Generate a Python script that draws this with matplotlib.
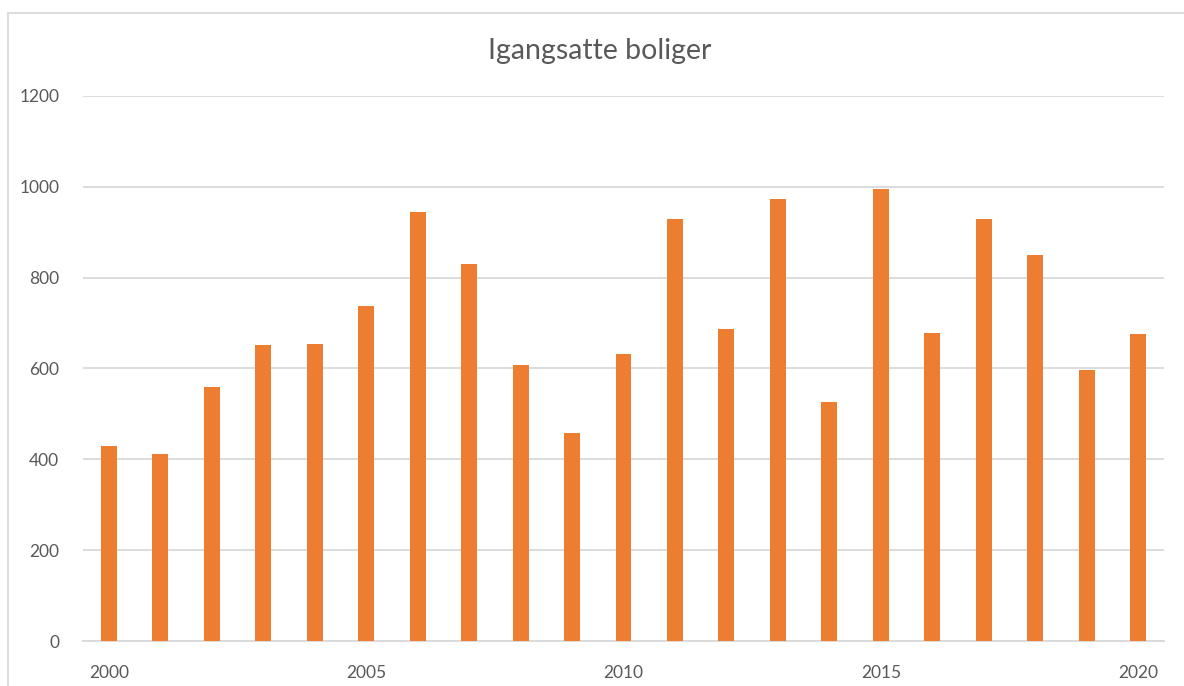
import matplotlib
matplotlib.use("Agg")
import matplotlib.pyplot as plt
import matplotlib.patches as mpatches
import numpy as np

# Igangsatte boliger per år
years = [2000, 2001, 2002, 2003, 2004, 2005, 2006, 2007, 2008, 2009, 2010,
         2011, 2012, 2013, 2014, 2015, 2016, 2017, 2018, 2019, 2020]
started = [430, 411, 559, 651, 654, 738, 945, 830, 607, 458, 632,
           929, 687, 974, 526, 995, 679, 929, 850, 596, 677]
tick_years = [2000, 2005, 2010, 2015, 2020]
y_ticks = [0, 200, 400, 600, 800, 1000, 1200]

plt.rcParams['font.family'] = ['Lato', 'DejaVu Sans']
grey_text = '#595959'

fig = plt.figure(figsize=(11.84, 6.86), dpi=100)
ax = fig.add_axes([83 / 1184, 1 - 641 / 686, (1164 - 83) / 1184, (641 - 96) / 686])

x = np.arange(len(years))
ax.bar(x, started, width=0.31, color='#ED7D31', zorder=3)

ax.set_xlim(-0.5, len(years) - 0.5)
ax.set_ylim(0, 1200)
ax.set_yticks(y_ticks)
ax.set_yticklabels([str(v) for v in y_ticks])
ax.set_xticks([years.index(y) for y in tick_years])
ax.set_xticklabels([str(y) for y in tick_years])

ax.grid(axis='y', color='#d9d9d9', linewidth=1.3, zorder=0)
for s in ['top', 'right', 'left']:
    ax.spines[s].set_visible(False)
ax.spines['bottom'].set_color('#d9d9d9')
ax.spines['bottom'].set_linewidth(1.3)
ax.tick_params(axis='both', length=0, labelsize=12.5, colors=grey_text)
ax.tick_params(axis='y', pad=17)
ax.tick_params(axis='x', pad=17)

fig.text(600 / 1184, 1 - 51 / 686, 'Igangsatte boliger', ha='center', va='center',
         fontsize=20.5, color=grey_text)

# chart frame
frame = mpatches.Rectangle((8 / 1184, -0.1), 1.2, 1 - 13 / 686 + 0.1,
                           transform=fig.transFigure, fill=False,
                           edgecolor='#d9d9d9', linewidth=1.3)
fig.patches.append(frame)

fig.savefig('out.png', dpi=100)
